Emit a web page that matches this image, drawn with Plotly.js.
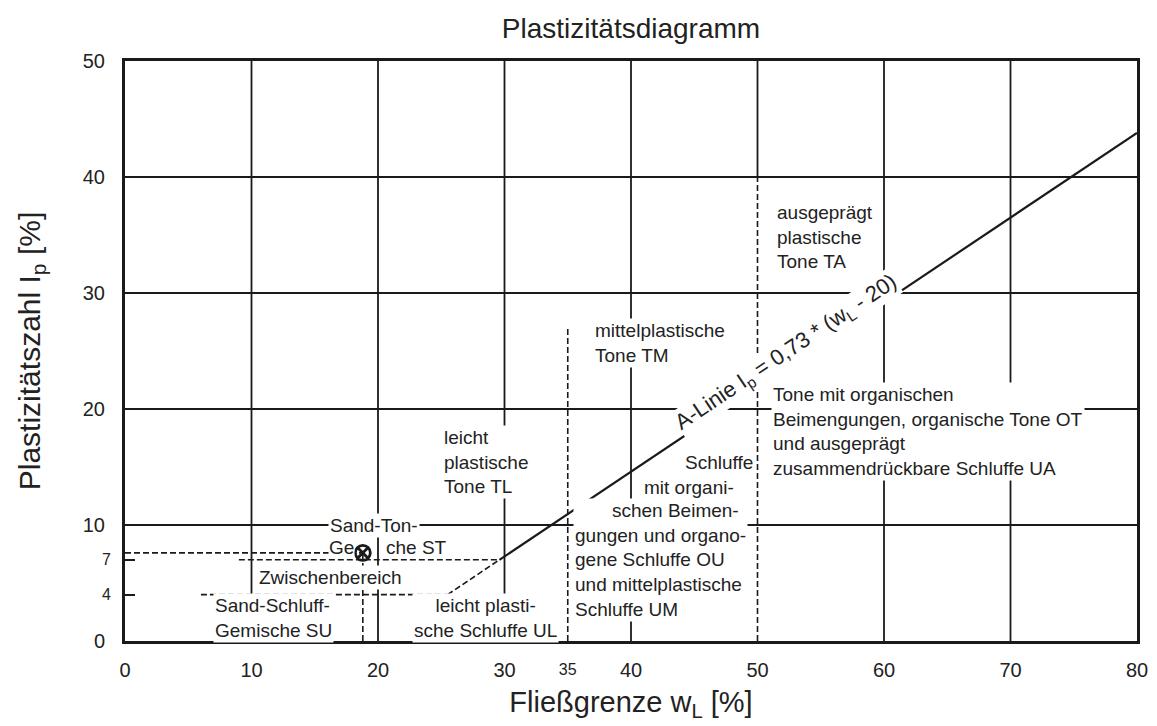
<!DOCTYPE html>
<html>
<head>
<meta charset="utf-8">
<script src="https://cdn.plot.ly/plotly-3.0.1.min.js"></script>
<style>html,body{margin:0;padding:0;background:#fff;}#chart{width:1157px;height:726px;}</style>
</head>
<body>
<div id="chart"></div>
<script>
// ---- data ----
const aLineWL = [29.6, 80];        // A-Linie, solid part
const aLineIp = [7, 43.8];
const aExtWL = [25.5, 29.6];       // dashed continuation of A-Linie
const aExtIp = [4, 7];
const ip4WL = [6, 25.5];           // Ip = 4 boundary
const ip4Ip = [4, 4];
const ip7WL = [9, 29.6];           // Ip = 7 boundary
const ip7Ip = [7, 7];
const wl35WL = [35, 35];           // wL = 35 boundary
const wl35Ip = [0, 27];
const wl50WL = [50, 50];           // wL = 50 boundary
const wl50Ip = [0, 40];
const sampleWL = [18.8];           // plotted sample
const sampleIp = [7.6];
const guideHWL = [0, 18.8];
const guideHIp = [7.6, 7.6];
const guideVWL = [18.8, 18.8];
const guideVIp = [0, 7.6];

const xTickVals = [0, 10, 20, 30, 40, 50, 60, 70, 80];
const xTickValsSmall = [35];
const yTickVals = [0, 10, 20, 30, 40, 50];
const yTickValsSmall = [4, 7];
const gridX = [10, 20, 30, 40, 60, 70];
const gridY = [10, 20, 30, 40];
const gridX50 = [50];

// ---- styling ----
const FONT = 'Liberation Sans, Arial, sans-serif';
const INK = '#1a1a1a';
const dashed = {color: INK, width: 1.6, dash: '6px,3px'};

function seg(x, y, line) {
  return {type: 'scatter', mode: 'lines', x: x, y: y, line: line, hoverinfo: 'skip', showlegend: false};
}

const traces = [
  seg(aLineWL, aLineIp, {color: INK, width: 2.2}),
  seg(aExtWL, aExtIp, dashed),
  seg(ip4WL, ip4Ip, dashed),
  seg(ip7WL, ip7Ip, dashed),
  seg(wl35WL, wl35Ip, dashed),
  seg(wl50WL, wl50Ip, dashed),
  seg(guideHWL, guideHIp, dashed),
  seg(guideVWL, guideVIp, dashed),
  {type: 'scatter', mode: 'markers', x: sampleWL, y: sampleIp, xaxis: 'x2', yaxis: 'y2', showlegend: false,
   marker: {symbol: 'circle-x-open', size: 15, color: INK, line: {width: 2.8, color: INK}}}
];

const shapes = [];
gridX.forEach(v => shapes.push({type: 'line', xref: 'x', yref: 'y', x0: v, x1: v, y0: 0, y1: 50, layer: 'below', line: {color: INK, width: 1.8}}));
gridY.forEach(v => shapes.push({type: 'line', xref: 'x', yref: 'y', x0: 0, x1: 80, y0: v, y1: v, layer: 'below', line: {color: INK, width: 1.8}}));
gridX50.forEach(v => shapes.push({type: 'line', xref: 'x', yref: 'y', x0: v, x1: v, y0: 40, y1: 50, layer: 'below', line: {color: INK, width: 1.8}}));

function note(text, x, y, xanchor, align, extra) {
  return Object.assign({text: text, x: x, y: y, xref: 'x', yref: 'y', xanchor: xanchor, yanchor: 'middle',
    align: align, showarrow: false, bgcolor: '#ffffff', borderpad: 1,
    font: {family: FONT, size: 19, color: '#222'}}, extra || {});
}

const NB = '\u00a0';
const ang = Math.atan(0.73 * 11.6 / 12.65) * 180 / Math.PI;
const rad = ang * Math.PI / 180;
const off = 12;

const annotations = [
  note('Sand-Ton-', 16.05, 10.0, 'left', 'left'),
  note('Ge', 16.05, 8.02, 'left', 'left', {borderpad: 0}),
  note('che ST', 20.55, 8.02, 'left', 'left', {borderpad: 0}),
  note('Zwischenbereich', 10.43, 5.5, 'left', 'left'),
  note('Sand-Schluff-<br>Gemische SU', 6.96, 2.0, 'left', 'left'),
  note('leicht plasti-<br>sche Schluffe UL', 28.5, 2.0, 'center', 'center'),
  note('leicht<br>plastische<br>Tone TL', 25.06, 15.4, 'left', 'left'),
  note('mittelplastische<br>Tone TM', 37.0, 25.7, 'left', 'left'),
  note('Schluffe', 44.1, 15.35, 'left', 'left'),
  note('mit organi-', 40.9, 13.2, 'left', 'left'),
  note(NB.repeat(7) + 'schen Beimen-<br>gungen und organo-<br>gene Schluffe OU<br>und mittelplastische<br>Schluffe UM', 35.4, 6.95, 'left', 'left'),
  note('ausgeprägt<br>plastische<br>Tone TA', 51.4, 34.8, 'left', 'left'),
  note('Tone mit organischen<br>Beimengungen, organische Tone OT<br>und ausgeprägt<br>zusammendrückbare Schluffe UA', 51.1, 18.1, 'left', 'left'),
  note('A-Linie I<sub>p</sub> = 0,73 * (w<sub>L</sub> - 20)', 52.8, 0.73 * (52.8 - 20), 'center', 'center',
       {textangle: -ang, xshift: -off * Math.sin(rad), yshift: off * Math.cos(rad), borderpad: 0,
        font: {family: FONT, size: 22, color: '#222'}})
];

const axisCommon = {
  showgrid: false, zeroline: false, showline: true, mirror: true,
  linecolor: INK, linewidth: 3, tickfont: {family: FONT, size: 20, color: '#222'}
};

const layout = {
  width: 1157, height: 726,
  margin: {l: 125, r: 20, t: 61, b: 85},
  paper_bgcolor: '#ffffff', plot_bgcolor: '#ffffff',
  showlegend: false,
  title: {text: 'Plastizitätsdiagramm', x: 0.5, xref: 'paper', xanchor: 'center',
          y: 1 - 28 / 726, yref: 'container', yanchor: 'middle',
          font: {family: FONT, size: 28, color: '#222'}},
  xaxis: Object.assign({}, axisCommon, {
    range: [0, 80], tickmode: 'array', tickvals: xTickVals,
    ticks: '', ticklabelstandoff: 9,
    title: {text: 'Fließgrenze w<sub>L</sub> [%]', standoff: 12, font: {family: FONT, size: 29, color: '#222'}}
  }),
  yaxis: Object.assign({}, axisCommon, {
    range: [0, 50], tickmode: 'array', tickvals: yTickVals,
    ticks: 'inside', ticklen: 10, tickwidth: 2, tickcolor: INK, ticklabelstandoff: 13,
    title: {text: 'Plastizitätszahl I<sub>p</sub> [%]', standoff: 34, font: {family: FONT, size: 30, color: '#222'}}
  }),
  xaxis2: {
    overlaying: 'x', anchor: 'y', side: 'bottom', range: [0, 80],
    tickmode: 'array', tickvals: xTickValsSmall, ticks: '', ticklabelstandoff: 17,
    showgrid: false, zeroline: false, showline: false,
    tickfont: {family: FONT, size: 16, color: '#222'}
  },
  yaxis2: {
    overlaying: 'y', anchor: 'x', side: 'left', range: [0, 50],
    tickmode: 'array', tickvals: yTickValsSmall, ticks: 'inside', ticklen: 10, tickwidth: 2, tickcolor: INK,
    ticklabelstandoff: 13, showgrid: false, zeroline: false, showline: false,
    tickfont: {family: FONT, size: 16, color: '#222'}
  },
  shapes: shapes,
  annotations: annotations
};

Plotly.newPlot('chart', traces, layout, {displayModeBar: false, staticPlot: true});
</script>
</body>
</html>
